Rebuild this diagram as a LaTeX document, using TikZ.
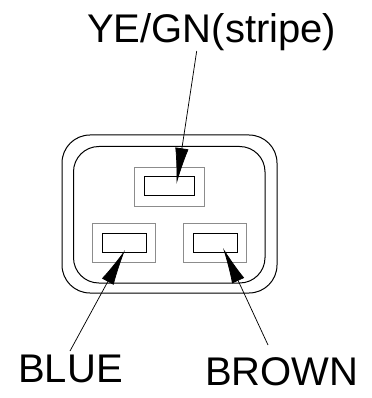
\documentclass[tikz,border=0pt]{standalone}
\usepackage{fontspec}
\setmainfont{Liberation Sans}
\usetikzlibrary{arrows.meta}
\tikzset{
	wirelabel/.style={inner sep=0pt,anchor=base west,font=\fontsize{30}{30}\selectfont},
	slotframe/.style={draw=black!45,line width=0.6pt,inner sep=0pt,minimum height=29.25pt},
	slotpin/.style={draw,line width=0.75pt,inner sep=0pt,minimum height=14.25pt},
	pointer/.style={line width=0.55pt,-{Latex[length=27pt,width=10pt]}}
}
\begin{document}
\begin{tikzpicture}[x=0.75pt,y=-0.75pt]
	\useasboundingbox (0,0) rectangle (371,398);
	% housing
	\draw [line width=0.75pt,rounded corners=21pt] (62,135) rectangle (277,293);
	\draw [line width=0.75pt,rounded corners=19pt] (73.5,146.5) rectangle (265,283);
	% slots
	\node [slotframe,minimum width=52.5pt] (topframe) at (169,186.5) {};
	\node [slotframe,minimum width=47.5pt] (leftframe) at (123.7,242.5) {};
	\node [slotframe,minimum width=47.5pt] (rightframe) at (215,242.5) {};
	\node [slotpin,minimum width=38pt] (toppin) at (169.5,186.5) {};
	\node [slotpin,minimum width=33pt] (leftpin) at (124,242.5) {};
	\node [slotpin,minimum width=33pt] (rightpin) at (215,242.5) {};
	% labels
	\node [wirelabel] (yegn) at (87,43) {YE/GN(stripe)};
	\node [wirelabel] (blue) at (18,382) {BLUE};
	\node [wirelabel] (brown) at (205,385) {BROWN};
	% pointers
	\coordinate (yegnend) at (196.7,51);
	\coordinate (blueend) at (70,351);
	\coordinate (brownend) at (268,345);
	\coordinate (toptip) at (176.5,184);
	\coordinate (lefttip) at (125,250);
	\coordinate (righttip) at (223,248);
	\draw [pointer] (yegnend) -- (toptip);
	\draw [pointer] (blueend) -- (lefttip);
	\draw [pointer] (brownend) -- (righttip);
\end{tikzpicture}
\end{document}
